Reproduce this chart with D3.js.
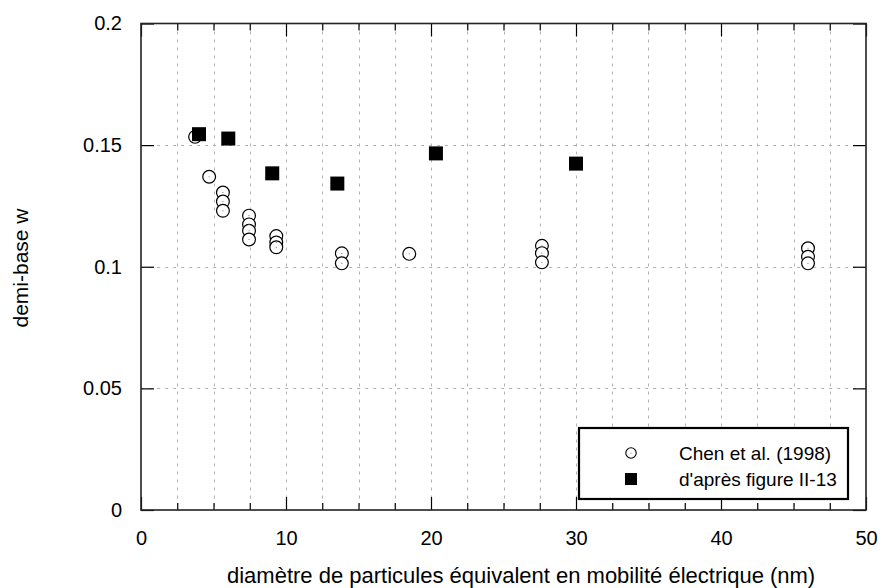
<!DOCTYPE html>
<html>
<head>
<meta charset="utf-8">
<script src="https://cdn.jsdelivr.net/npm/d3@7"></script>
<style>
  html, body { margin: 0; padding: 0; background: #fff; }
  svg { display: block; font-family: "Liberation Sans", Arial, Helvetica, sans-serif; }
</style>
</head>
<body>
<svg id="chart" width="882" height="588"></svg>
<script>
// ---- data ----
const chenX = [3.73, 4.7, 5.65, 5.65, 5.65, 7.45, 7.45, 7.45, 7.45, 9.33, 9.33, 9.33, 13.85, 13.85, 18.5, 27.65, 27.65, 27.65, 46.0, 46.0, 46.0];
const chenY = [0.1534, 0.137, 0.1305, 0.1268, 0.123, 0.121, 0.1174, 0.1148, 0.1112, 0.1126, 0.110, 0.108, 0.1055, 0.1014, 0.1053, 0.1086, 0.1056, 0.1018, 0.1076, 0.1041, 0.1014];
const figX = [4.0, 6.02, 9.05, 13.54, 20.34, 30.0];
const figY = [0.1545, 0.1527, 0.1384, 0.1342, 0.1466, 0.1424];
const xTicks = [0, 10, 20, 30, 40, 50];
const xMinorTicks = [2.5, 5, 7.5, 12.5, 15, 17.5, 22.5, 25, 27.5, 32.5, 35, 37.5, 42.5, 45, 47.5];
const yTicks = [0, 0.05, 0.1, 0.15, 0.2];
const yTickLabels = ["0", "0.05", "0.1", "0.15", "0.2"];
const seriesNames = ["Chen et al. (1998)", "d'après figure II-13"];
const xTitle = "diamètre de particules équivalent en mobilité électrique (nm)";
const yTitle = "demi-base w";

// ---- layout ----
const L = 141, R = 866, T = 23.5, B = 510;
const svg = d3.select("#chart");
const x = d3.scaleLinear().domain([0, 50]).range([L, R]);
const y = d3.scaleLinear().domain([0, 0.2]).range([B, T]);

// gridlines
const grid = svg.append("g").attr("stroke", "#b4b4b4").attr("stroke-width", 1).attr("stroke-dasharray", "3,5");
grid.selectAll("line.vx").data(xMinorTicks.concat(xTicks.slice(1, -1))).join("line")
  .attr("x1", d => Math.round(x(d)) + 0.5).attr("x2", d => Math.round(x(d)) + 0.5)
  .attr("y1", T).attr("y2", B);
grid.selectAll("line.hy").data(yTicks.slice(1, -1)).join("line")
  .attr("y1", d => Math.round(y(d)) + 0.5).attr("y2", d => Math.round(y(d)) + 0.5)
  .attr("x1", L).attr("x2", R);

// axes (inward ticks)
function styleAxis(g) {
  g.select(".domain").remove();
  g.selectAll(".tick line").attr("stroke", "#000").attr("stroke-width", 1.2);
  g.selectAll(".tick text").attr("fill", "#000").attr("font-size", 20);
}
svg.append("g").attr("transform", `translate(0,${B})`)
  .call(d3.axisBottom(x).tickValues(xTicks).tickSize(-13).tickPadding(21).tickFormat(d3.format("d")))
  .call(styleAxis);
svg.append("g").attr("transform", `translate(0,${B})`)
  .call(d3.axisBottom(x).tickValues(xMinorTicks).tickSize(-7).tickFormat(""))
  .call(styleAxis);
svg.append("g").attr("transform", `translate(0,${T})`)
  .call(d3.axisTop(x).tickValues(xTicks).tickSize(-13).tickFormat(""))
  .call(styleAxis);
svg.append("g").attr("transform", `translate(0,${T})`)
  .call(d3.axisTop(x).tickValues(xMinorTicks).tickSize(-7).tickFormat(""))
  .call(styleAxis);
svg.append("g").attr("transform", `translate(${L},0)`)
  .call(d3.axisLeft(y).tickValues(yTicks).tickSize(-13).tickPadding(19).tickFormat((d, i) => yTickLabels[i]))
  .call(styleAxis);
svg.append("g").attr("transform", `translate(${R},0)`)
  .call(d3.axisRight(y).tickValues(yTicks).tickSize(-13).tickFormat(""))
  .call(styleAxis);

// frame
svg.append("rect").attr("x", L).attr("y", T).attr("width", R - L).attr("height", B - T)
  .attr("fill", "none").attr("stroke", "#222").attr("stroke-width", 1.6);

// Chen et al. circles
const chen = chenX.map((d, i) => ({ x: d, y: chenY[i] }));
const cg = svg.append("g");
cg.selectAll("circle.c").data(chen).join("circle")
  .attr("cx", d => x(d.x)).attr("cy", d => y(d.y)).attr("r", 6.4)
  .attr("fill", "#fff").attr("stroke", "#000").attr("stroke-width", 1.2);
cg.selectAll("circle.dot").data(chen).join("circle")
  .attr("cx", d => x(d.x)).attr("cy", d => y(d.y)).attr("r", 0.6).attr("fill", "#777");

// figure II-13 squares
const fig = figX.map((d, i) => ({ x: d, y: figY[i] }));
const sz = 14;
svg.append("g").selectAll("rect").data(fig).join("rect")
  .attr("x", d => x(d.x) - sz / 2).attr("y", d => y(d.y) - sz / 2)
  .attr("width", sz).attr("height", sz).attr("fill", "#000");

// axis titles
svg.append("text").attr("x", 227).attr("y", 583).attr("text-anchor", "start")
  .attr("font-size", 22).attr("fill", "#000").text(xTitle);
svg.append("text").attr("transform", "translate(28,268) rotate(-90)").attr("text-anchor", "middle")
  .attr("font-size", 21).attr("fill", "#000").text(yTitle);

// legend
const lg = svg.append("g");
lg.append("rect").attr("x", 579).attr("y", 428).attr("width", 269).attr("height", 71)
  .attr("fill", "#fff").attr("stroke", "#000").attr("stroke-width", 2.2);
const rowY = [453, 479];
lg.append("circle").attr("cx", 631).attr("cy", rowY[0]).attr("r", 5.2)
  .attr("fill", "#fff").attr("stroke", "#000").attr("stroke-width", 1.1);
lg.append("circle").attr("cx", 631).attr("cy", rowY[0]).attr("r", 0.6).attr("fill", "#777");
lg.append("rect").attr("x", 631 - 6).attr("y", rowY[1] - 6).attr("width", 12).attr("height", 12).attr("fill", "#000");
lg.selectAll("text").data(seriesNames).join("text")
  .attr("x", 679).attr("y", (d, i) => rowY[i]).attr("dy", "0.35em")
  .attr("font-size", 19).attr("fill", "#000").text(d => d);
</script>
</body>
</html>
